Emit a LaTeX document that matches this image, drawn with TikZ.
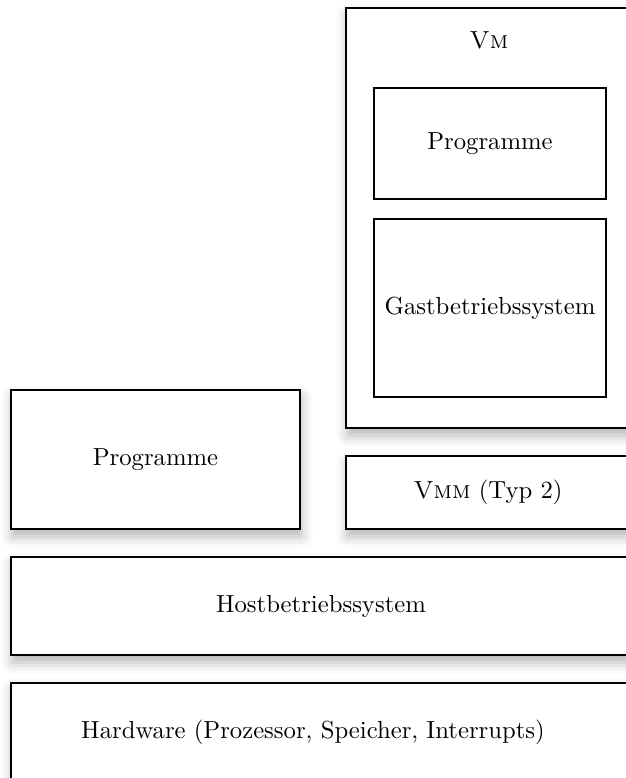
\documentclass[tikz,border=0pt]{standalone}
\usetikzlibrary{fit,shadows.blur}
\tikzset{
  layer/.style={draw=black, line width=0.5pt, fill=white, inner sep=0pt,
    blur shadow={shadow xshift=0.6pt, shadow yshift=-3pt, shadow blur radius=4.5pt, shadow opacity=30}},
  innerlayer/.style={draw=black, line width=0.5pt, fill=white, inner sep=0pt},
  caption/.style={inner sep=1pt}
}
\begin{document}
\begin{tikzpicture}[x=0.405pt, y=-0.405pt]
  \useasboundingbox (0,0) rectangle (625,778);

  % virtual machine with its contents
  \coordinate (vmA) at (346,8);   \coordinate (vmB) at (660,428);
  \node[layer, fit=(vmA)(vmB)] (vm) {};
  \node[caption] (vmlabel) at (489,40) {\textsc{Vm}};

  \coordinate (gpA) at (374,88);  \coordinate (gpB) at (606,199);
  \node[innerlayer, fit=(gpA)(gpB)] (guestprog) {};
  \node[caption] at (guestprog.center) {Programme};

  \coordinate (goA) at (374,219); \coordinate (goB) at (606,397);
  \node[innerlayer, fit=(goA)(goB)] (guestos) {};
  \node[caption] at (guestos.center) {Gastbetriebssystem};

  % host side
  \coordinate (hpA) at (11,390);  \coordinate (hpB) at (300,529);
  \node[layer, fit=(hpA)(hpB)] (hostprog) {};
  \node[caption] at (hostprog.center) {Programme};

  \coordinate (vmmA) at (346,456); \coordinate (vmmB) at (660,529);
  \node[layer, fit=(vmmA)(vmmB)] (vmm) {};
  \node[caption] (vmmlabel) at (488,492) {\textsc{Vmm} (Typ 2)};

  \coordinate (hoA) at (11,557);  \coordinate (hoB) at (660,655);
  \node[layer, fit=(hoA)(hoB)] (hostos) {};
  \node[caption] (hostoslabel) at (321,606) {Hostbetriebssystem};

  \coordinate (hwA) at (11,683);  \coordinate (hwB) at (660,781);
  \node[layer, fit=(hwA)(hwB)] (hw) {};
  \node[caption] (hwlabel) at (313,732) {Hardware (Prozessor, Speicher, Interrupts)};
\end{tikzpicture}
\end{document}
